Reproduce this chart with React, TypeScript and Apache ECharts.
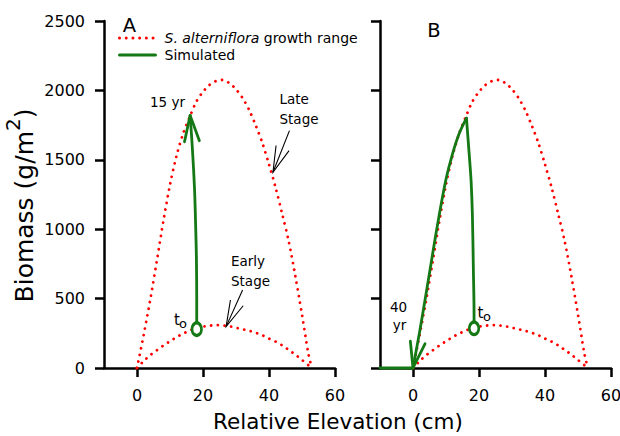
import React, { useEffect, useRef } from "react";
import * as echarts from "echarts";

const FONT = '"DejaVu Sans", Verdana, sans-serif';
const RED = "#ff0000";
const GREEN = "#147814";

const RANGE_NAME = "S. alterniflora growth range";
const SIM_NAME = "Simulated";

const X_TICKS = [0, 20, 40, 60];

// growth range envelope (upper and lower limits), relative elevation in cm
const UPPER_X = [0, 2, 4, 6, 8, 10, 12, 14, 16, 18, 20, 22, 24, 26, 28, 30, 32, 34, 36, 38, 40, 42, 44, 46, 48, 50, 52, 53];
const UPPER_Y = [0, 235, 490, 770, 1060, 1320, 1530, 1690, 1810, 1920, 1990, 2040, 2068, 2075, 2052, 2008, 1945, 1858, 1746, 1620, 1467, 1300, 1110, 910, 660, 385, 95, 0];
const LOWER_X = [0, 2, 4, 6, 8, 10, 12, 14, 16, 18, 20, 22, 24, 26, 28, 30, 32, 34, 36, 38, 40, 42, 44, 46, 48, 50, 52, 53];
const LOWER_Y = [0, 50, 92, 127, 162, 193, 222, 248, 270, 286, 298, 305, 309, 307, 300, 290, 279, 268, 254, 236, 212, 190, 163, 130, 96, 58, 19, 0];

// simulated trajectory, panel A
const SIM_A_X = [18.1, 18.1, 18.0, 17.8, 17.5, 17.1, 16.6, 16.1];
const SIM_A_Y = [280, 500, 800, 1000, 1250, 1450, 1650, 1820];

// simulated trajectory, panel B
const SIM_B_RISE_X = [18.5, 18.5, 18.3, 18.0, 17.6, 17.0, 16.2];
const SIM_B_RISE_Y = [286, 400, 700, 1100, 1350, 1550, 1800];
const SIM_B_FALL_X = [16.2, 14, 12, 10, 8, 6, 4, 2, 0];
const SIM_B_FALL_Y = [1800, 1690, 1545, 1360, 1110, 830, 540, 260, 0];
const SIM_B_FLAT_X = [0, -10];
const SIM_B_FLAT_Y = [0, 0];

const START_A = [18.1, 280];
const START_B = [18.5, 286];

// arrow heads: [tipX, tipY, fromX, fromY]
const HEAD_A = [16.1, 1820, 16.6, 1650];
const HEAD_B = [0, 0, 2, 260];

// annotation arrows (panel A): [tipX, tipY, tailX, tailY]
const LATE_ARROW = [41.2, 1410, 46.2, 1710];
const EARLY_ARROW = [27, 298, 32, 562];

const zip = (xs: number[], ys: number[]) => xs.map((x, i) => [x, ys[i]]);

function headPoints(tip: number[], from: number[], L: number, ang: number) {
  const dx = from[0] - tip[0];
  const dy = from[1] - tip[1];
  const d = Math.hypot(dx, dy) || 1;
  const ux = dx / d;
  const uy = dy / d;
  const c = Math.cos(ang);
  const s = Math.sin(ang);
  const b1 = [tip[0] + L * (ux * c - uy * s), tip[1] + L * (ux * s + uy * c)];
  const b2 = [tip[0] + L * (ux * c + uy * s), tip[1] + L * (-ux * s + uy * c)];
  return [b1, tip, b2];
}

function txt(text: string, x: number, y: number, size: number, align = "left", extra: any = {}) {
  return {
    type: "text",
    x,
    y,
    z: 100,
    style: {
      text,
      fontSize: size,
      fontFamily: FONT,
      fill: "#000",
      align,
      verticalAlign: "middle",
      textAlign: align,
      textVerticalAlign: "middle",
      ...extra,
    },
  };
}

export default function App() {
  const ref = useRef<HTMLDivElement>(null);

  useEffect(() => {
    if (!ref.current) return;
    const chart = echarts.init(ref.current, undefined, { renderer: "svg" });

    const axisLine = { show: true, onZero: false, lineStyle: { color: "#000", width: 2.5 } };
    const tick = { show: true, length: 9, lineStyle: { color: "#000", width: 2.5 } };
    const label = { color: "#000", fontSize: 16, fontFamily: FONT, margin: 19, formatter: (v: number) => String(v) };

    const xAxis = [0, 1].map((i) => ({
      gridIndex: i,
      type: "value",
      min: -10,
      max: 60,
      axisLine,
      axisTick: { ...tick, customValues: X_TICKS },
      axisLabel: { ...label, customValues: X_TICKS },
      splitLine: { show: false },
    }));
    const yAxis = [0, 1].map((i) => ({
      gridIndex: i,
      type: "value",
      min: 0,
      max: 2500,
      interval: 500,
      axisLine,
      axisTick: tick,
      axisLabel: { ...label, show: i === 0 },
      splitLine: { show: false },
    }));

    const redStyle = { color: RED, width: 2.8, type: [0.01, 6.7], cap: "round" };
    const greenStyle = { color: GREEN, width: 2.8, cap: "round", join: "round" };

    const redSeries = (i: number, xs: number[], ys: number[]) => ({
      name: RANGE_NAME,
      type: "line",
      xAxisIndex: i,
      yAxisIndex: i,
      data: zip(xs, ys),
      symbol: "none",
      smooth: 0.3,
      clip: false,
      itemStyle: { color: RED },
      lineStyle: redStyle,
      z: 2,
    });
    const greenSeries = (i: number, xs: number[], ys: number[], smooth: number) => ({
      name: SIM_NAME,
      type: "line",
      xAxisIndex: i,
      yAxisIndex: i,
      data: zip(xs, ys),
      symbol: "none",
      smooth,
      clip: false,
      itemStyle: { color: GREEN },
      lineStyle: greenStyle,
      z: 3,
    });
    const startSeries = (i: number, p: number[]) => ({
      name: "start",
      type: "scatter",
      xAxisIndex: i,
      yAxisIndex: i,
      data: [p],
      symbol: "circle",
      symbolSize: [9.5, 12.5],
      itemStyle: { color: "#fff", borderColor: GREEN, borderWidth: 3, opacity: 1 },
      clip: false,
      z: 6,
    });
    const headSeries = (i: number, d: number[]) => ({
      name: "head",
      type: "custom",
      xAxisIndex: i,
      yAxisIndex: i,
      data: [d],
      encode: { x: [0, 2], y: [1, 3] },
      z: 7,
      renderItem: (_p: any, api: any) => {
        const tip = api.coord([api.value(0), api.value(1)]);
        const from = api.coord([api.value(2), api.value(3)]);
        return {
          type: "polyline",
          shape: { points: headPoints(tip, from, 27, (16 * Math.PI) / 180) },
          style: { stroke: GREEN, lineWidth: 2.8, fill: "none", lineJoin: "round", lineCap: "round" },
        };
      },
    });
    const annotSeries = {
      name: "annotation",
      type: "custom",
      xAxisIndex: 0,
      yAxisIndex: 0,
      data: [LATE_ARROW, EARLY_ARROW],
      encode: { x: [0, 2], y: [1, 3] },
      z: 8,
      renderItem: (_p: any, api: any) => {
        const tip = api.coord([api.value(0), api.value(1)]);
        const tail = api.coord([api.value(2), api.value(3)]);
        const style = { stroke: "#000", lineWidth: 1.1, fill: "none" };
        return {
          type: "group",
          children: [
            { type: "line", shape: { x1: tail[0], y1: tail[1], x2: tip[0], y2: tip[1] }, style },
            { type: "polyline", shape: { points: headPoints(tip, tail, 27, (15 * Math.PI) / 180) }, style },
          ],
        };
      },
    };

    const option: any = {
      animation: false,
      backgroundColor: "#fff",
      grid: [
        { left: 104, top: 21, width: 231, height: 347, outerBoundsMode: "none" },
        { left: 380, top: 21, width: 231, height: 347, outerBoundsMode: "none" },
      ],
      xAxis,
      yAxis,
      legend: {
        data: [RANGE_NAME, SIM_NAME],
        orient: "vertical",
        left: 118,
        top: 30,
        padding: 0,
        itemWidth: 36,
        itemHeight: 10,
        itemGap: 1,
        itemStyle: { opacity: 0 },
        lineStyle: { width: 3 },
        formatter: (n: string) => (n === RANGE_NAME ? "{i|S. alterniflora} growth range" : n),
        textStyle: {
          color: "#000",
          fontSize: 14,
          fontFamily: FONT,
          lineHeight: 16,
          padding: [0, 0, 0, 4],
          rich: { i: { fontStyle: "italic", fontSize: 14, fontFamily: FONT, color: "#000", lineHeight: 16 } },
        },
      },
      series: [
        redSeries(0, UPPER_X, UPPER_Y),
        redSeries(0, LOWER_X, LOWER_Y),
        redSeries(1, UPPER_X, UPPER_Y),
        redSeries(1, LOWER_X, LOWER_Y),
        greenSeries(0, SIM_A_X, SIM_A_Y, 0.3),
        greenSeries(1, SIM_B_RISE_X, SIM_B_RISE_Y, 0.3),
        greenSeries(1, SIM_B_FALL_X, SIM_B_FALL_Y, 0.3),
        greenSeries(1, SIM_B_FLAT_X, SIM_B_FLAT_Y, 0),
        startSeries(0, START_A),
        startSeries(1, START_B),
        headSeries(0, HEAD_A),
        headSeries(1, HEAD_B),
        annotSeries,
      ],
      graphic: {
        elements: [
          txt("A", 129.5, 25, 19.5, "center"),
          txt("B", 434, 30.5, 19.5, "center"),
          txt("15 yr", 167.5, 101.7, 13.5, "center"),
          txt("Late", 279.5, 99.2, 13.5),
          txt("Stage", 279.5, 119, 13.5),
          txt("Early", 231, 260.5, 13.5),
          txt("Stage", 231, 281, 13.5),
          txt("t", 174, 319.5, 15),
          txt("o", 179, 323.5, 13),
          txt("t", 477.5, 312.5, 15),
          txt("o", 483, 316.5, 13),
          txt("40", 398.5, 307, 13.5, "center"),
          txt("yr", 399.5, 324.5, 13.5, "center"),
          txt("Relative Elevation (cm)", 338, 421.8, 21.5, "center"),
          {
            type: "text",
            x: 24,
            y: 205.5,
            rotation: Math.PI / 2,
            z: 100,
            style: {
              text: "{a|Biomass (g/m}{s|2}{a|)}",
              align: "center",
              verticalAlign: "middle",
              textAlign: "center",
              textVerticalAlign: "middle",
              fill: "#000",
              fontFamily: FONT,
              fontSize: 25,
              rich: {
                a: { fontSize: 25, fontFamily: FONT, fill: "#000", lineHeight: 42, verticalAlign: "middle" },
                s: { fontSize: 20, fontFamily: FONT, fill: "#000", lineHeight: 20, verticalAlign: "top" },
              },
            },
          },
        ],
      },
    };

    chart.setOption(option);
    return () => chart.dispose();
  }, []);

  return (
    <div
      ref={ref}
      style={{ position: "fixed", left: 0, top: 0, width: 620, height: 436, background: "#fff" }}
    />
  );
}
